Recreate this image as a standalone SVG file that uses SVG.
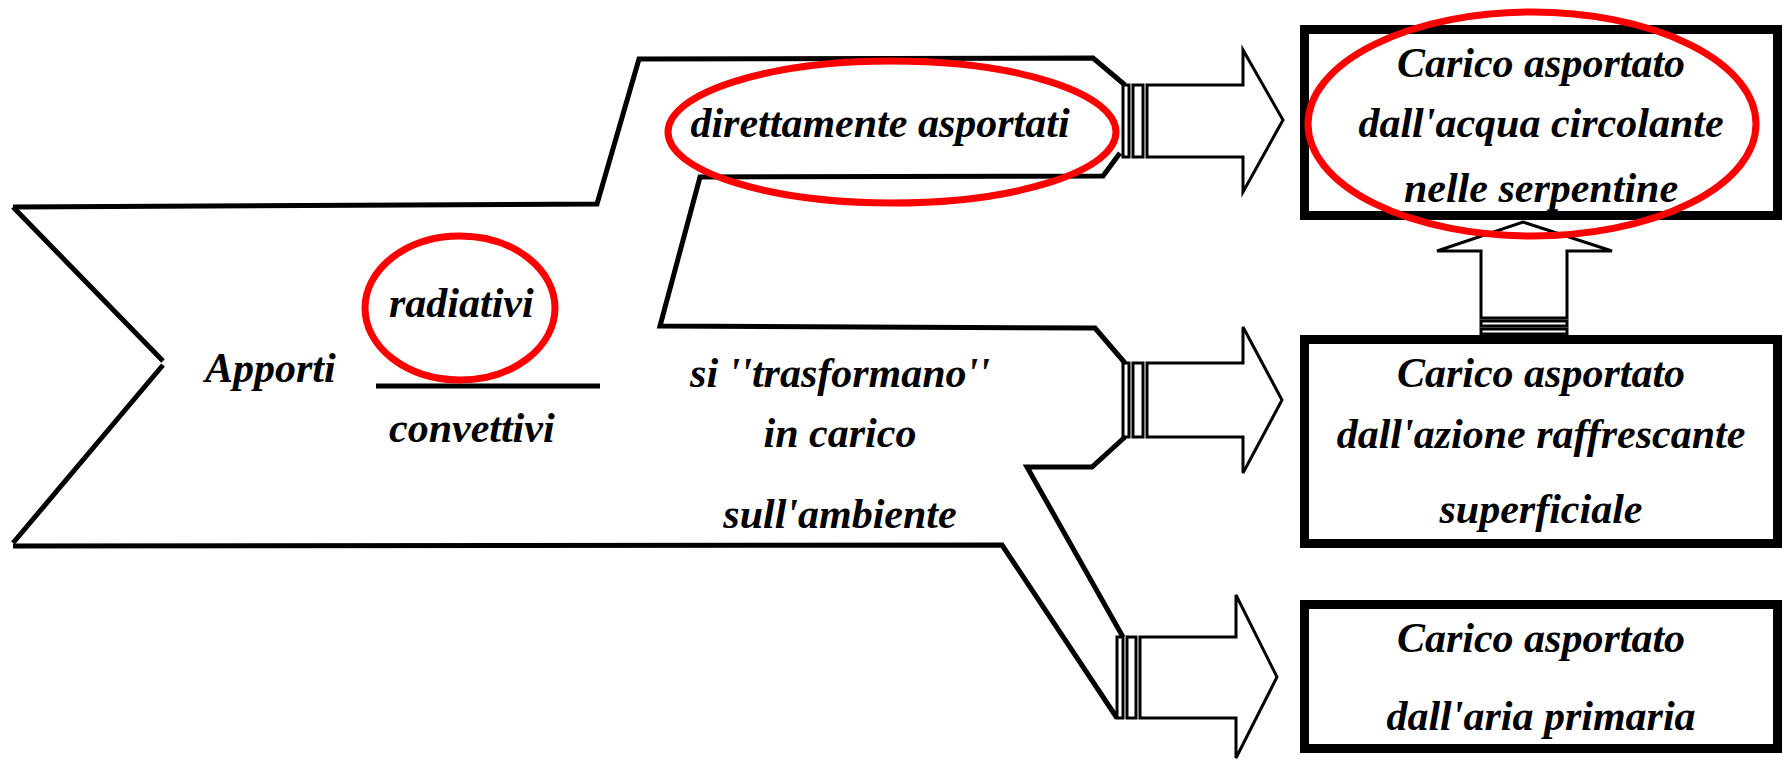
<svg xmlns="http://www.w3.org/2000/svg" width="1782" height="759" viewBox="0 0 1782 759">
  <style>
    .t { font-family: "Liberation Serif", "Times New Roman", serif; font-size: 42px; font-weight: bold; font-style: italic; fill: #000; }
    .mid { text-anchor: middle; }
    .flow { fill: none; stroke: #000; stroke-width: 5; stroke-linejoin: miter; }
    .arrow { fill: #fff; stroke: #000; stroke-width: 3; stroke-linejoin: miter; }
    .box { fill: #fff; stroke: #000; stroke-width: 9; }
    .mark { fill: none; stroke: #f00; stroke-width: 7; }
  </style>

  <!-- flow band outlines -->
  <g id="connectors">
    <path class="flow" d="M13,207 L163,361"/>
    <path class="flow" d="M163,365 L13,543"/>
    <path class="flow" d="M13,207 L597,204 L639,59 L1093,58 L1125,85"/>
    <path class="flow" d="M1120,153 L1103,176 L700,177 L660,326 L1095,328 L1125,363"/>
    <path class="flow" d="M1125,437 L1092,467 L1027,467 L1123,637"/>
    <path class="flow" d="M13,546 L1002,545 L1117,718"/>
    <line class="flow" x1="376" y1="386" x2="600" y2="386"/>

    <!-- block arrows with coupling bands -->
    <g id="arrow-top">
      <rect class="arrow" x="1123" y="85" width="6" height="72"/>
      <rect class="arrow" x="1133" y="85" width="10" height="72"/>
      <polygon class="arrow" points="1147,85 1243,85 1243,50 1283,120 1243,192 1243,157 1147,157"/>
    </g>
    <g id="arrow-mid">
      <rect class="arrow" x="1123" y="363" width="6" height="74"/>
      <rect class="arrow" x="1133" y="363" width="10" height="74"/>
      <polygon class="arrow" points="1147,363 1243,363 1243,327 1282,400 1243,473 1243,437 1147,437"/>
    </g>
    <g id="arrow-low">
      <rect class="arrow" x="1117" y="637" width="6" height="81"/>
      <rect class="arrow" x="1127" y="637" width="9" height="81"/>
      <polygon class="arrow" points="1140,637 1236,637 1236,595 1277,677 1236,758 1236,718 1140,718"/>
    </g>
    <g id="arrow-up">
      <rect class="arrow" x="1481" y="329" width="86" height="5"/>
      <rect class="arrow" x="1481" y="321" width="86" height="5"/>
      <polygon class="arrow" points="1481,318 1481,251 1437,251 1523,222 1612,251 1567,251 1567,318"/>
    </g>
  </g>

  <g id="apporti">
    <text class="t" x="205" y="382">Apporti</text>
  </g>
  <g id="radiativi">
    <text class="t" x="389" y="317">radiativi</text>
  </g>
  <g id="convettivi">
    <text class="t" x="389" y="442">convettivi</text>
  </g>
  <g id="direttamente">
    <text class="t mid" x="880" y="137">direttamente asportati</text>
  </g>
  <g id="trasformano">
    <text class="t mid" x="840" y="387">si ''trasformano''</text>
    <text class="t mid" x="840" y="447">in carico</text>
    <text class="t mid" x="840" y="528">sull'ambiente</text>
  </g>

  <g id="box-serpentine">
    <rect class="box" x="1304.5" y="29.5" width="473" height="186"/>
    <text class="t mid" x="1541" y="77">Carico asportato</text>
    <text class="t mid" x="1541" y="137">dall'acqua circolante</text>
    <text class="t mid" x="1541" y="202">nelle serpentine</text>
  </g>
  <g id="box-superficiale">
    <rect class="box" x="1304.5" y="339.5" width="473" height="204"/>
    <text class="t mid" x="1541" y="387">Carico asportato</text>
    <text class="t mid" x="1541" y="448">dall'azione raffrescante</text>
    <text class="t mid" x="1541" y="523">superficiale</text>
  </g>
  <g id="box-aria">
    <rect class="box" x="1304.5" y="604.5" width="473" height="144"/>
    <text class="t mid" x="1541" y="652">Carico asportato</text>
    <text class="t mid" x="1541" y="730">dall'aria primaria</text>
  </g>

  <!-- red highlight rings -->
  <g id="highlights">
    <ellipse class="mark" cx="460" cy="308" rx="95" ry="72"/>
    <ellipse class="mark" cx="892" cy="132" rx="224" ry="71"/>
    <ellipse class="mark" cx="1532" cy="124" rx="224" ry="112"/>
  </g>
</svg>
